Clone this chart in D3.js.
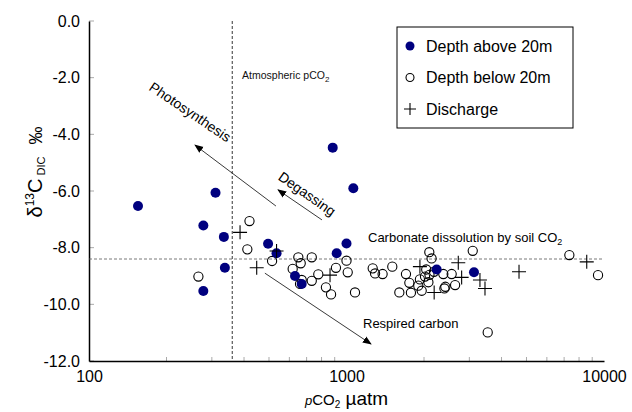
<!DOCTYPE html>
<html>
<head>
<meta charset="utf-8">
<script src="https://cdn.jsdelivr.net/npm/d3@7"></script>
<style>
  body { margin: 0; background: #fff; }
  svg { font-family: "Liberation Sans", Arial, sans-serif; }
</style>
</head>
<body>
<svg id="chart" width="632" height="412"></svg>
<script>
// pCO2 (µatm) and δ13C DIC (‰)
const aboveX = [155, 310, 278, 334, 337, 278, 496, 535, 884, 1063, 1000, 916, 631, 670, 2240, 3127];
const aboveY = [-6.53, -6.06, -7.22, -7.62, -8.71, -9.53, -7.86, -8.2, -4.47, -5.9, -7.85, -8.2, -9.0, -9.28, -8.77, -8.87];

const belowX = [420, 412, 266, 514, 650, 733, 664, 618, 670, 660, 733, 777, 832, 871, 910, 1000, 1011, 1079,
  1264, 1291, 1381, 1506, 1702, 1754, 1604, 1779, 1959, 1900, 2018, 2040, 2097, 2140, 2080, 2100, 2377, 2420,
  1928, 2187, 2561, 2641, 2400, 3092, 3535, 7336, 9480];
const belowY = [-7.06, -8.06, -9.02, -8.47, -8.34, -8.34, -8.55, -8.75, -9.14, -9.28, -9.17, -8.94, -9.4, -9.65, -8.71, -8.46, -8.87, -9.58,
  -8.73, -8.91, -8.93, -8.67, -8.93, -9.24, -9.58, -9.59, -9.52, -9.34, -9.02, -8.77, -8.16, -8.38, -9.22, -8.96, -8.93, -9.38,
  -9.12, -8.85, -8.93, -9.32, -9.44, -8.11, -10.99, -8.26, -8.97];

const dischX = [386, 448, 535, 863, 1928, 2190, 2717, 2800, 3298, 3450, 4677, 8570];
const dischY = [-7.46, -8.71, -8.12, -8.97, -8.67, -9.58, -8.53, -9.05, -9.14, -9.44, -8.85, -8.5];

const xTicks = [100, 1000, 10000];
const yTicks = [0, -2, -4, -6, -8, -10, -12];
const atmPco2 = 360;
const carbonateLine = -8.4;

const margin = { top: 21, right: 28, bottom: 51, left: 89 };
const width = 632 - margin.left - margin.right;
const height = 412 - margin.top - margin.bottom;

const svg = d3.select("#chart");
const g = svg.append("g").attr("transform", `translate(${margin.left},${margin.top})`);

const x = d3.scaleLog().domain([100, 10000]).range([0, width]);
const y = d3.scaleLinear().domain([-12, 0]).range([height, 0]);

svg.append("defs").append("marker")
  .attr("id", "arrow")
  .attr("viewBox", "0 0 10 10")
  .attr("refX", 9).attr("refY", 5)
  .attr("markerWidth", 9).attr("markerHeight", 9)
  .attr("markerUnits", "userSpaceOnUse")
  .attr("orient", "auto")
  .append("path")
    .attr("d", "M0,1 L10,5 L0,9 Z")
    .attr("fill", "#000");

// minor x ticks (inside)
const minor = [];
[100, 1000].forEach(dec => { for (let i = 2; i <= 9; i++) minor.push(dec * i); });
g.selectAll(".minor")
  .data(minor)
  .join("line")
    .attr("x1", d => x(d)).attr("x2", d => x(d))
    .attr("y1", height).attr("y2", height - 4)
    .attr("stroke", "#aaa").attr("stroke-width", 1);

// y ticks (inside)
g.selectAll(".ytick")
  .data(yTicks)
  .join("line")
    .attr("x1", 0).attr("x2", 5)
    .attr("y1", d => y(d)).attr("y2", d => y(d))
    .attr("stroke", "#aaa");

// Y axis
g.append("g")
  .call(d3.axisLeft(y).tickValues(yTicks).tickFormat(d3.format(".1f")).tickSize(0).tickPadding(9))
  .call(a => a.select(".domain").attr("stroke", "#000").attr("stroke-width", 1.5))
  .call(a => a.selectAll("text").style("font-size", "16px").attr("fill", "#000")
    .text(d => (d === 0 ? "0.0" : d3.format(".1f")(d).replace("−", "-"))));

// X axis
g.append("g")
  .attr("transform", `translate(0,${height})`)
  .call(d3.axisBottom(x).tickValues(xTicks).tickFormat(d3.format("d")).tickSize(0).tickPadding(10))
  .call(a => a.select(".domain").attr("stroke", "#000").attr("stroke-width", 1.5))
  .call(a => a.selectAll("text").style("font-size", "16px").attr("fill", "#000"));

// reference lines
g.append("line")
  .attr("x1", x(atmPco2)).attr("x2", x(atmPco2))
  .attr("y1", 0).attr("y2", height)
  .attr("stroke", "#000").attr("stroke-width", 0.8).attr("stroke-dasharray", "3,2");
g.append("line")
  .attr("x1", 0).attr("x2", width)
  .attr("y1", y(carbonateLine)).attr("y2", y(carbonateLine))
  .attr("stroke", "#555").attr("stroke-width", 0.8).attr("stroke-dasharray", "3,2");

// annotation arrows (data units)
const arrows = [
  { from: [532, -6.53], to: [258, -4.38] },
  { from: [803, -7.02], to: [542, -5.96] },
  { from: [482, -8.9], to: [1245, -11.4] }
];
g.selectAll(".arrow")
  .data(arrows)
  .join("line")
    .attr("x1", d => x(d.from[0])).attr("y1", d => y(d.from[1]))
    .attr("x2", d => x(d.to[0])).attr("y2", d => y(d.to[1]))
    .attr("stroke", "#222").attr("stroke-width", 0.9)
    .attr("marker-end", "url(#arrow)");

// annotation text
const atm = g.append("text")
  .attr("x", x(393)).attr("y", y(-2.05))
  .style("font-size", "10.5px").attr("fill", "#111");
atm.append("tspan").text("Atmospheric pCO");
atm.append("tspan").attr("dy", 3).style("font-size", "8px").text("2");

g.append("text")
  .attr("transform", `translate(${x(247)},${y(-3.21)}) rotate(34)`)
  .attr("text-anchor", "middle").attr("dy", "0.35em")
  .style("font-size", "14px").text("Photosynthesis");
g.append("text")
  .attr("transform", `translate(${x(703)},${y(-6.1)}) rotate(35)`)
  .attr("text-anchor", "middle").attr("dy", "0.35em")
  .style("font-size", "14px").text("Degassing");

const carb = g.append("text")
  .attr("x", x(1212)).attr("y", y(-7.8))
  .style("font-size", "13px");
carb.append("tspan").text("Carbonate dissolution by soil CO");
carb.append("tspan").attr("dy", 3).style("font-size", "9px").text("2");

g.append("text")
  .attr("x", x(1159)).attr("y", y(-10.84))
  .style("font-size", "13px").text("Respired carbon");

// data: depth below 20m (open circles)
g.selectAll(".below")
  .data(d3.zip(belowX, belowY))
  .join("circle")
    .attr("cx", d => x(d[0])).attr("cy", d => y(d[1]))
    .attr("r", 4.6)
    .attr("fill", "none").attr("stroke", "#000").attr("stroke-width", 1.1);

// data: depth above 20m (filled)
g.selectAll(".above")
  .data(d3.zip(aboveX, aboveY))
  .join("circle")
    .attr("cx", d => x(d[0])).attr("cy", d => y(d[1]))
    .attr("r", 5)
    .attr("fill", "#00007f");

// data: discharge (plus)
g.selectAll(".disch")
  .data(d3.zip(dischX, dischY))
  .join("path")
    .attr("transform", d => `translate(${x(d[0])},${y(d[1])})`)
    .attr("d", "M-7,0H7M0,-7V7")
    .attr("stroke", "#000").attr("stroke-width", 1.1).attr("fill", "none");

// legend
const lg = svg.append("g").attr("transform", "translate(397,27)");
lg.append("rect")
  .attr("width", 176).attr("height", 101)
  .attr("fill", "#fff").attr("stroke", "#000").attr("stroke-width", 1);
const legendItems = ["Depth above 20m", "Depth below 20m", "Discharge"];
legendItems.forEach((name, i) => {
  const cy = 19 + i * 31.5;
  if (i === 0) lg.append("circle").attr("cx", 13).attr("cy", cy).attr("r", 4.5).attr("fill", "#00007f");
  if (i === 1) lg.append("circle").attr("cx", 13).attr("cy", cy).attr("r", 4).attr("fill", "none").attr("stroke", "#000").attr("stroke-width", 1.1);
  if (i === 2) lg.append("path").attr("transform", `translate(13,${cy})`).attr("d", "M-6,0H6M0,-6V6").attr("stroke", "#000").attr("stroke-width", 1.1);
  lg.append("text").attr("x", 29).attr("y", cy).attr("dy", "0.35em").style("font-size", "16px").text(name);
});

// y-axis title
const yt = svg.append("text")
  .attr("transform", "translate(42,172) rotate(-90)")
  .attr("text-anchor", "middle");
yt.append("tspan").style("font-size", "20px").text("δ");
yt.append("tspan").style("font-size", "12px").attr("dy", -8).text("13");
yt.append("tspan").style("font-size", "20px").attr("dy", 8).text("C");
yt.append("tspan").style("font-size", "11px").attr("dy", 3).attr("dx", 3).text("DIC");
yt.append("tspan").style("font-size", "18px").attr("dy", -3).attr("dx", 12).text("‰");

// x-axis title
const xt = svg.append("text")
  .attr("x", margin.left + x(1000)).attr("y", 405)
  .attr("text-anchor", "middle");
xt.append("tspan").style("font-size", "13px").style("font-style", "italic").text("p");
xt.append("tspan").style("font-size", "15px").text("CO");
xt.append("tspan").style("font-size", "10px").attr("dy", 3).text("2");
xt.append("tspan").style("font-size", "19px").attr("dy", -3).text(" µatm");
</script>
</body>
</html>
